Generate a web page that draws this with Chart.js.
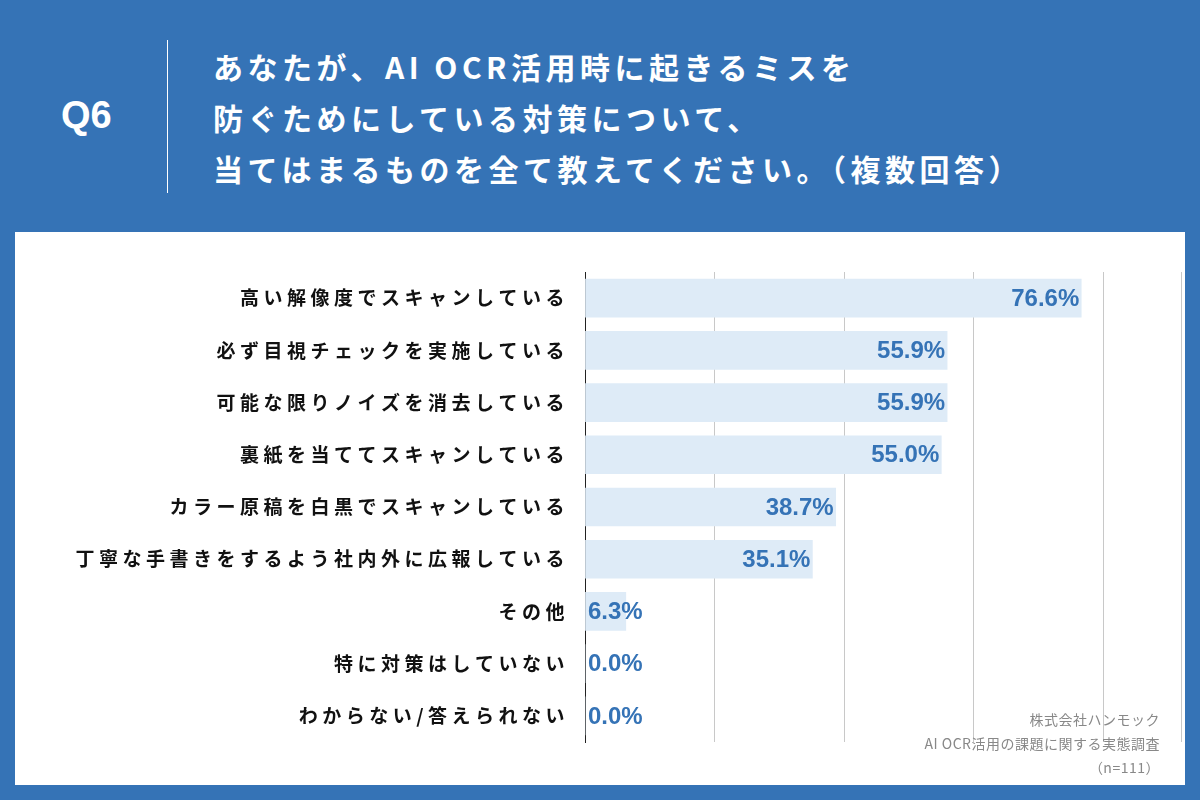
<!DOCTYPE html>
<html><head><meta charset="utf-8">
<script src="https://cdn.jsdelivr.net/npm/chart.js@4/dist/chart.umd.min.js"></script>
<style>
html,body{margin:0;padding:0;}
body{width:1200px;height:800px;background:#3573b6;position:relative;overflow:hidden;font-family:"Noto Sans CJK JP","Noto Sans",sans-serif;}
#q{position:absolute;left:61px;top:94px;color:#fff;font:bold 38px "Liberation Sans",sans-serif;}
#vl{position:absolute;left:167px;top:40px;width:1px;height:153px;background:#fff;}
#title{position:absolute;left:213px;top:41px;color:#fff;font-weight:bold;font-size:30px;line-height:51px;letter-spacing:4.5px;}
#panel{position:absolute;left:15px;top:232px;width:1170px;height:553px;background:#fff;}
#wrap{position:absolute;left:0;top:0;width:1170px;height:553px;}
#note{position:absolute;right:25px;top:475px;text-align:right;color:#888;font-size:14px;line-height:24px;letter-spacing:0.5px;}
</style></head><body>
<div id="q">Q6</div><div id="vl"></div>
<div id="title">あなたが、AI OCR活用時に起きるミスを<br>防ぐためにしている対策について、<br>当てはまるものを全て教えてください。（複数回答）</div>
<div id="panel"><div id="wrap"><canvas id="c"></canvas></div>
<div id="note">株式会社ハンモック<br>AI OCR活用の課題に関する実態調査<br>（n=111）</div></div>
<script>
const categories=["高い解像度でスキャンしている","必ず目視チェックを実施している","可能な限りノイズを消去している","裏紙を当ててスキャンしている","カラー原稿を白黒でスキャンしている","丁寧な手書きをするよう社内外に広報している","その他","特に対策はしていない","わからない/答えられない"];
const values=[76.6,55.9,55.9,55.0,38.7,35.1,6.3,0.0,0.0];
const labelPlugin={id:"lbl",afterDatasetsDraw(chart){
 const ctx=chart.ctx,meta=chart.getDatasetMeta(0),left=chart.chartArea.left,ys=chart.scales.y;
 ctx.save();
 ctx.font='bold 19px "Noto Sans CJK JP",sans-serif';ctx.fillStyle="#111";ctx.textAlign="right";ctx.textBaseline="middle";
 if('letterSpacing' in ctx) ctx.letterSpacing="4.5px";
 categories.forEach((c,i)=>{ctx.fillText(c,left-16,ys.getPixelForTick(i));});
 if('letterSpacing' in ctx) ctx.letterSpacing="0px";
 ctx.font='bold 24px "Liberation Sans",sans-serif';ctx.fillStyle="#3573b6";
 meta.data.forEach((b,i)=>{const t=values[i].toFixed(1)+"%";const w=ctx.measureText(t).width;
  const x=Math.max(b.x-2,left+3+w);ctx.fillText(t,x,b.y+1);});
 ctx.restore();}};
new Chart(document.getElementById("c"),{type:"bar",
 data:{labels:categories,datasets:[{data:values,backgroundColor:"#deebf7",barThickness:38}]},
 options:{indexAxis:"y",responsive:true,maintainAspectRatio:false,animation:false,
  layout:{padding:{top:40,bottom:43,right:4}},
  plugins:{legend:{display:false},tooltip:{enabled:false}},
  scales:{
   x:{min:0,max:92,ticks:{display:false,stepSize:20},grid:{color:"#c8c8c8",drawTicks:false},border:{display:false}},
   y:{afterFit(s){s.width=570;},grid:{display:false,drawTicks:false},border:{color:"#222",width:1},
      ticks:{display:false}}
  }},
 plugins:[labelPlugin]});
</script></body></html>
